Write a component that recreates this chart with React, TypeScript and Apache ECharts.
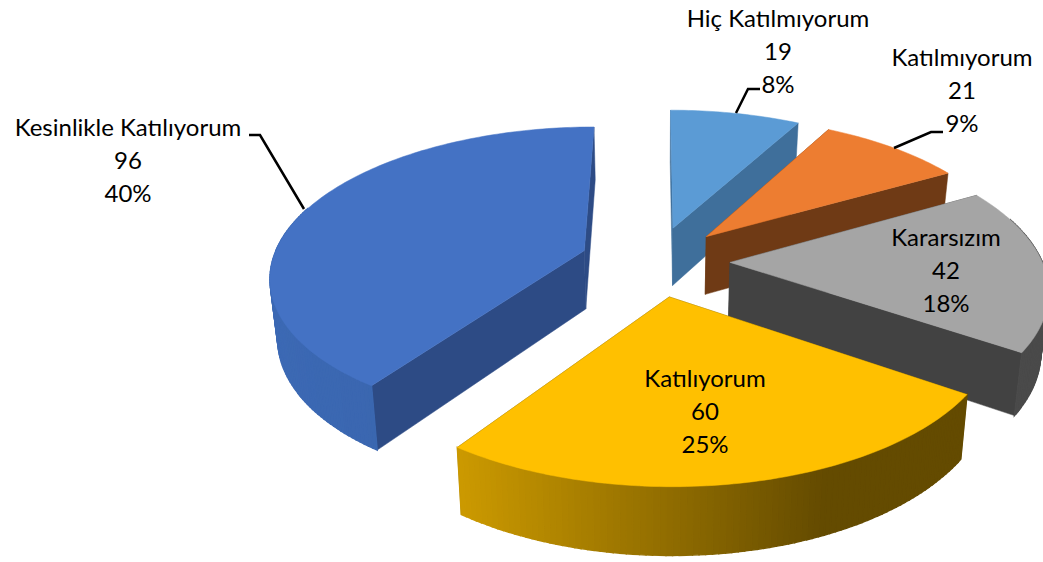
import React, { useEffect, useRef } from "react";
import * as echarts from "echarts";

const categories = ["Hiç Katılmıyorum", "Katılmıyorum", "Kararsızım", "Katılıyorum", "Kesinlikle Katılıyorum"];
const values = [19, 21, 42, 60, 96];
const topColors = ["#5B9BD5", "#ED7D31", "#A5A5A5", "#FFC000", "#4472C4"];
const wallColors = ["#3F6F9B", "#6F3A15", "#424242", "#604800", "#2D4B85"];
const rimLeft = ["#4A7FAF", "#7C4118", "#4A4A4A", "#CC9A00", "#3C69B4"];
const rimRight = ["#3F6F9B", "#6F3A15", "#4A4A4A", "#644B00", "#3762A8"];
const labelCenters = [[778, 50], [962, 89], [946, 269], [705, 410], [128, 159]];
const leaders: number[][][] = [
  [[760, 89], [748, 89], [736, 113]],
  [[943, 132], [931, 132], [894, 148]],
  [],
  [],
  [[249, 135], [260, 135], [304, 209]],
];

const CX = 655, CY = 261, A = 312, B = 146.5, K = 0.16, EXPLODE = 0.24, H = 60, SHRINK = 0.98;
const total = values.reduce((a, b) => a + b, 0);

function project(X: number, Y: number, bottom: boolean): number[] {
  let s = 1 / (1 - K * Y);
  if (bottom) s *= SHRINK;
  return [CX + A * X * s, CY + (B * Y + (bottom ? H : 0)) * s];
}

function App() {
  const ref = useRef<HTMLDivElement>(null);
  useEffect(() => {
    document.body.style.margin = "0";
    const chart = echarts.init(ref.current!, undefined, { renderer: "svg" });
    const renderItem = (params: any, api: any) => {
      const i = params.dataIndex;
      const v = api.value(0);
      const before = values.slice(0, i).reduce((a, b) => a + b, 0);
      const t0 = (before / total) * Math.PI * 2;
      const t1 = ((before + v) / total) * Math.PI * 2;
      const tm = (t0 + t1) / 2;
      const ox = EXPLODE * Math.sin(tm);
      const oy = -EXPLODE * Math.cos(tm);
      const steps = Math.max(8, Math.round(((t1 - t0) * 180) / Math.PI));
      const pts = (bottom: boolean) => {
        const out: number[][] = [];
        for (let s = 0; s <= steps; s++) {
          const t = t0 + ((t1 - t0) * s) / steps;
          out.push(project(ox + Math.sin(t), oy - Math.cos(t), bottom));
        }
        return out;
      };
      const topArc = pts(false);
      const botArc = pts(true);
      const apexTop = project(ox, oy, false);
      const apexBot = project(ox, oy, true);
      const poly = (points: number[][], fill: string, lineWidth = 0.5) => ({
        type: "polygon",
        shape: { points },
        style: { fill, stroke: fill, lineWidth },
        silent: true,
      });
      const children: any[] = [];
      children.push(poly([apexTop, topArc[0], botArc[0], apexBot], wallColors[i]));
      children.push(poly([apexTop, topArc[steps], botArc[steps], apexBot], wallColors[i]));
      // The outer wall is swept in thin strips so its silhouette stays closed and it shades left to right.
      const xs = topArc.map((p) => p[0]);
      const xMin = Math.min(...xs);
      const xMax = Math.max(...xs);
      const stop = i === 3 ? 0.72 : 1;
      for (let s = 0; s < steps; s++) {
        const tMid = t0 + ((t1 - t0) * (s + 0.5)) / steps;
        if (Math.cos(tMid) > 0.3) continue; // the far side of the wall is hidden by the top face
        const mid = (topArc[s][0] + topArc[s + 1][0]) / 2;
        const frac = Math.min(1, (mid - xMin) / (xMax - xMin || 1) / stop);
        const c = echarts.color.lerp(frac, [rimLeft[i], rimRight[i]]) as string;
        children.push(poly([topArc[s], topArc[s + 1], botArc[s + 1], botArc[s]], c, 1.4));
      }
      children.push(poly([apexTop, ...topArc], topColors[i]));
      if (leaders[i].length) {
        children.push({
          type: "polyline",
          shape: { points: leaders[i] },
          style: { stroke: "#000000", lineWidth: 2.5, fill: "none" },
          silent: true,
        });
      }
      const pct = Math.round((v / total) * 100);
      children.push({
        type: "text",
        x: labelCenters[i][0],
        y: labelCenters[i][1],
        silent: true,
        style: {
          text: `${categories[i]}\n${v}\n${pct}%`,
          font: '24px Lato',
          fill: "#000000",
          align: "center",
          verticalAlign: "middle",
          lineHeight: 33,
        },
      });
      return { type: "group", children };
    };
    chart.setOption({
      animation: false,
      backgroundColor: "#FFFFFF",
      series: [
        {
          type: "custom",
          coordinateSystem: "none",
          renderItem,
          clip: false,
          silent: true,
          data: values.map((v) => [v]),
        },
      ],
    });
    return () => chart.dispose();
  }, []);
  return <div ref={ref} style={{ position: "fixed", left: 0, top: 0, width: 1043, height: 562 }} />;
}

export default App;
